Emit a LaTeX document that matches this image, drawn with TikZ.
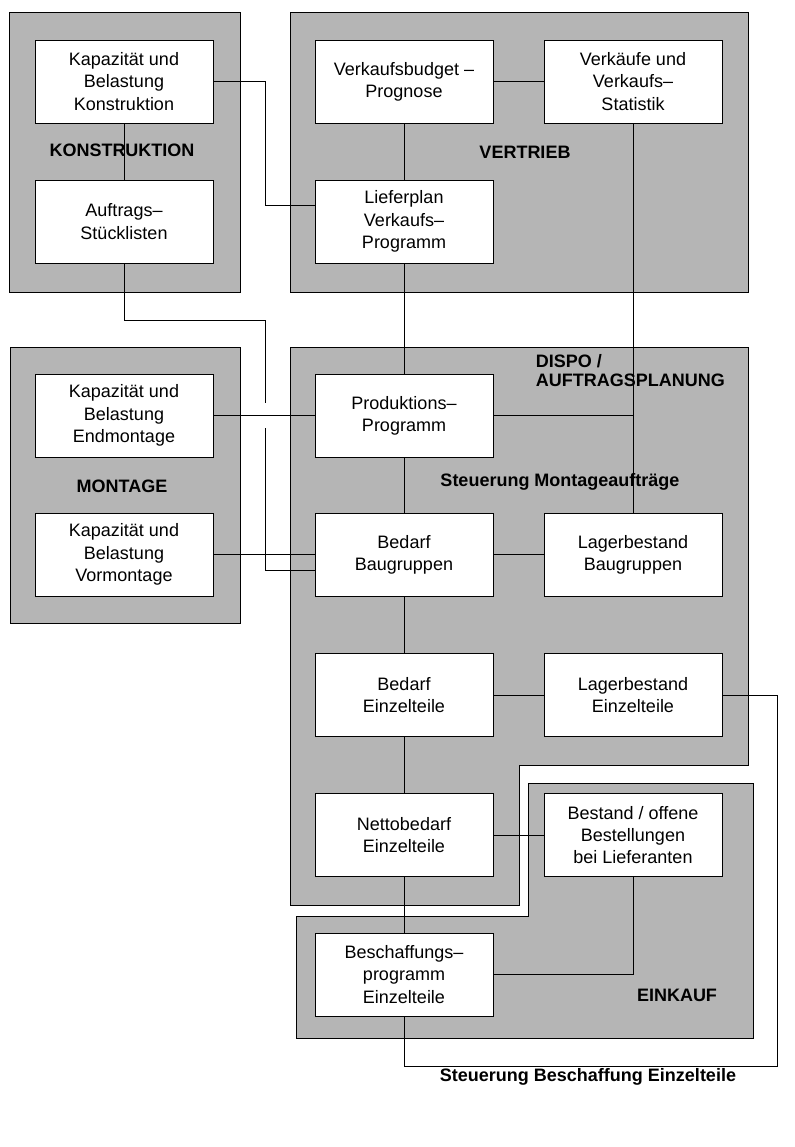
\documentclass[tikz,border=0pt]{standalone}
\usepackage{fontspec}
\setmainfont{Liberation Sans}
\usepackage{xcolor}
\usepackage{tikz}
\usetikzlibrary{positioning}

\tikzset{
  group/.style={draw=black, thin, fill=gray!58},
  task/.style={draw=black, thin, fill=white, align=center,
    minimum width=4.45cm, minimum height=2.08cm, inner sep=2pt,
    font=\fontsize{12.8}{15.8}\selectfont},
  grouplabel/.style={font=\fontsize{12.8}{15}\selectfont\bfseries},
  link/.style={draw=black, thin}
}

\begin{document}
\begin{tikzpicture}[x=0.025cm, y=-0.025cm]
\useasboundingbox (0,0) rectangle (795,1147);

   % Bereiche
   \draw[group] (9,12) rectangle (240,292);
   \draw[group] (290,12) rectangle (748,292);
   \draw[group] (10,347) rectangle (240,623);
   \draw[group] (290,347) -- (748,347) -- (748,765) -- (519,765)
        -- (519,905) -- (290,905) -- cycle;
   \draw[group] (528,783) -- (753,783) -- (753,1038) -- (296,1038)
        -- (296,916) -- (528,916) -- cycle;

   % Konstruktion
   \node[task] (KapKon) at (124,81.5) {Kapazität und\\Belastung\\Konstruktion};
   \node[task] (Auftrag) at (124,221.5) {Auftrags--\\Stücklisten};
   \node[grouplabel] (Konstruktion) at (122,150) {KONSTRUKTION};

   % Vertrieb
   \node[task] (Budget) at (404,81.5) {Verkaufsbudget --\\Prognose};
   \node[task] (Verkauf) at (633,81.5) {Verkäufe und\\Verkaufs--\\Statistik};
   \node[task] (Liefer) at (404,221.5) {Lieferplan\\Verkaufs--\\Programm};
   \node[grouplabel] (Vertrieb) at (525,152) {VERTRIEB};

   % Montage
   \node[task] (EndMont) at (124,415.5) {Kapazität und\\Belastung\\Endmontage};
   \node[task] (VorMont) at (124,554.5) {Kapazität und\\Belastung\\Vormontage};
   \node[grouplabel] (Montage) at (122,486) {MONTAGE};

   % Dispo / Auftragsplanung
   \node[task] (Prod) at (404,415.5) {Produktions--\\Programm};
   \node[task] (BedBG) at (404,554.5) {Bedarf\\Baugruppen};
   \node[task] (LagBG) at (633,554.5) {Lagerbestand\\Baugruppen};
   \node[task] (BedET) at (404,695) {Bedarf\\Einzelteile};
   \node[task] (LagET) at (633,695) {Lagerbestand\\Einzelteile};
   \node[task] (Netto) at (404,835) {Nettobedarf\\Einzelteile};
   \node[grouplabel, align=left, anchor=west, font=\fontsize{12.8}{13.5}\selectfont\bfseries]
        (Dispo) at (531,371) {DISPO /\\AUFTRAGSPLANUNG};
   \node[grouplabel] (SteuMont) at (560,482) {Steuerung Montageaufträge};

   % Einkauf
   \node[task] (Bestand) at (633,835) {Bestand / offene\\Bestellungen\\bei Lieferanten};
   \node[task] (Beschaff) at (404,974.5) {Beschaffungs--\\programm\\Einzelteile};
   \node[grouplabel] (Einkauf) at (677,995) {EINKAUF};
   \node[grouplabel] (SteuBesch) at (588,1077) {Steuerung Beschaffung Einzelteile};

   % Verbindungen
   \coordinate (kl) at (265,205);
   \coordinate (au) at (265,320);
   \coordinate (hopA) at (265,403);
   \coordinate (hopB) at (265,428);
   \coordinate (sb) at (777,1066);
   \draw[link] (KapKon) -- (Auftrag);
   \draw[link] (KapKon.east) -| (kl) -- (kl -| Liefer.west);
   \draw[link] (Auftrag.south) |- (au) -- (hopA);
   \draw[link] (hopB) |- ([yshift=-0.39cm]BedBG.west);
   \draw[link] (Budget) -- (Verkauf);
   \draw[link] (Budget) -- (Liefer);
   \draw[link] (Liefer) -- (Prod);
   \draw[link] (Verkauf.south) -- (LagBG.north);
   \draw[link] (Prod.east) -- (Prod.east -| Verkauf.south);
   \draw[link] (EndMont) -- (Prod);
   \draw[link] (VorMont) -- (BedBG);
   \draw[link] (Prod) -- (BedBG);
   \draw[link] (BedBG) -- (LagBG);
   \draw[link] (BedBG) -- (BedET);
   \draw[link] (BedET) -- (LagET);
   \draw[link] (BedET) -- (Netto);
   \draw[link] (Netto) -- (Bestand);
   \draw[link] (Netto) -- (Beschaff);
   \draw[link] (Bestand.south) |- (Beschaff.east);
   \draw[link] (LagET.east) -| (sb) -| (Beschaff.south);

\end{tikzpicture}
\end{document}
